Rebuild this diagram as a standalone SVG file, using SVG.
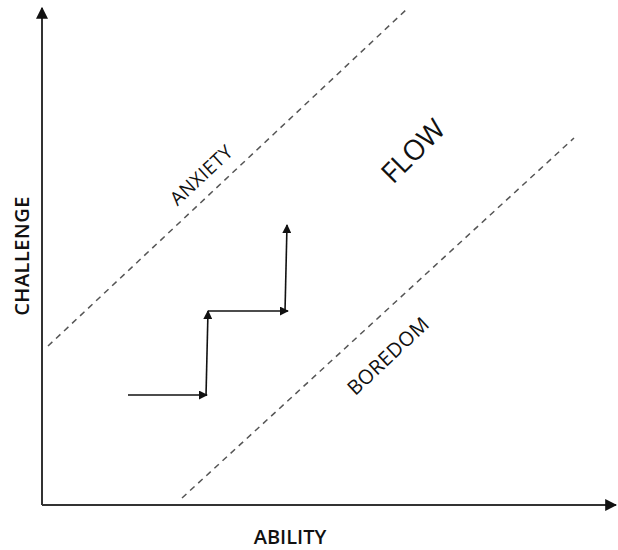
<svg xmlns="http://www.w3.org/2000/svg" width="618" height="550" viewBox="0 0 618 550">
<style>
.axis{stroke:#333;stroke-width:2;fill:none}
.dash{stroke:#555;stroke-width:1.5;stroke-dasharray:6,5;fill:none}
.step{stroke:#111;stroke-width:1.6;fill:none}
.lbl{font-family:"Open Sans","Noto Sans",sans-serif;fill:#111}
</style>
<defs>
<marker id="ah" viewBox="0 0 10 10" refX="9" refY="5" markerWidth="9" markerHeight="9" markerUnits="userSpaceOnUse" orient="auto">
<path d="M0,0 L10,5 L0,10 Z" fill="#111"/>
</marker>
<marker id="ax" viewBox="0 0 10 10" refX="9" refY="5" markerWidth="12" markerHeight="12" markerUnits="userSpaceOnUse" orient="auto">
<path d="M0,0 L10,5 L0,10 Z" fill="#111"/>
</marker>
</defs>
<rect width="618" height="550" fill="#fff"/>
<g id="axes">
<line class="axis" x1="42" y1="505" x2="42" y2="8" marker-end="url(#ax)"/>
<line class="axis" x1="42" y1="505" x2="616" y2="505" marker-end="url(#ax)"/>
</g>
<g id="connectors">
<line class="dash" x1="48" y1="346" x2="408" y2="8"/>
<line class="dash" x1="182" y1="498" x2="574" y2="138"/>
<line class="step" x1="128" y1="395" x2="207" y2="395" marker-end="url(#ah)"/>
<line class="step" x1="206" y1="396" x2="208" y2="311" marker-end="url(#ah)"/>
<line class="step" x1="208" y1="311" x2="288" y2="311" marker-end="url(#ah)"/>
<line class="step" x1="285" y1="312" x2="287" y2="225" marker-end="url(#ah)"/>
</g>
<g id="anxiety"><text class="lbl" font-size="19" letter-spacing="0.5" text-anchor="middle" transform="translate(206,180) rotate(-43)">ANXIETY</text></g>
<g id="flow"><text class="lbl" font-size="28" text-anchor="middle" transform="translate(420,158) rotate(-45)">FLOW</text></g>
<g id="boredom"><text class="lbl" font-size="20" letter-spacing="0.5" text-anchor="middle" transform="translate(393,361) rotate(-43)">BOREDOM</text></g>
<g id="challenge"><text class="lbl" font-size="20" font-weight="600" letter-spacing="0.5" text-anchor="middle" transform="translate(29,256) rotate(-90)">CHALLENGE</text></g>
<g id="ability"><text class="lbl" font-size="20" font-weight="600" text-anchor="middle" x="290" y="544">ABILITY</text></g>
</svg>
